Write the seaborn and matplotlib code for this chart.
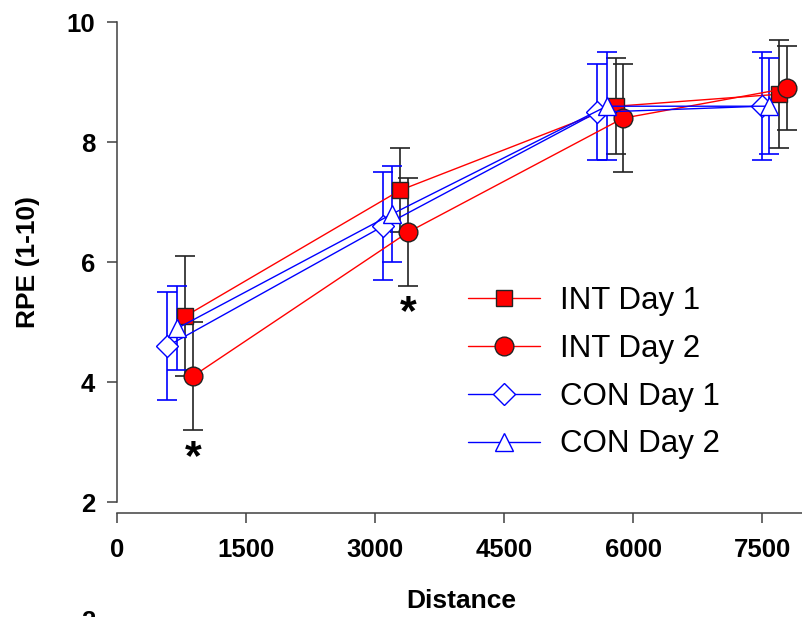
import seaborn as sns
import matplotlib.pyplot as plt

# RPE by distance, mean and SD per group (x slightly offset per group as in the figure)
int_d1_x = [790, 3290, 5800, 7690]
int_d1_y = [5.1, 7.2, 8.6, 8.8]
int_d1_sd = [1.0, 0.7, 0.8, 0.9]

int_d2_x = [880, 3380, 5880, 7790]
int_d2_y = [4.1, 6.5, 8.4, 8.9]
int_d2_sd = [0.9, 0.9, 0.9, 0.7]

con_d1_x = [580, 3090, 5580, 7490]
con_d1_y = [4.6, 6.6, 8.5, 8.6]
con_d1_sd = [0.9, 0.9, 0.8, 0.9]

con_d2_x = [700, 3190, 5690, 7580]
con_d2_y = [4.9, 6.8, 8.6, 8.6]
con_d2_sd = [0.7, 0.8, 0.9, 0.8]

# significance markers
star_x = [880, 3380]
star_y = [2.73, 5.16]

x_ticks = [0, 1500, 3000, 4500, 6000, 7500]
y_ticks = [2, 4, 6, 8, 10]

sns.set_theme(style="ticks")
plt.rcParams['font.family'] = ['Liberation Sans', 'DejaVu Sans']
plt.rcParams['text.color'] = 'black'
plt.rcParams['axes.labelcolor'] = 'black'

fig = plt.figure(figsize=(8.03, 6.17), dpi=100)
ax = fig.add_axes([0.146, 0.186, 0.857, 0.778])

series = [
    ("INT Day 1", int_d1_x, int_d1_y, int_d1_sd, "#ff0000", "#222222", "s", 12, "#ff0000", "#222222"),
    ("INT Day 2", int_d2_x, int_d2_y, int_d2_sd, "#ff0000", "#222222", "o", 13.5, "#ff0000", "#222222"),
    ("CON Day 1", con_d1_x, con_d1_y, con_d1_sd, "#0000ff", "#0000ff", "D", 11.5, "white", "#0000ff"),
    ("CON Day 2", con_d2_x, con_d2_y, con_d2_sd, "#0000ff", "#0000ff", "^", 13.5, "white", "#0000ff"),
]

for name, x, y, sd, col, ecol, mk, ms, mfc, mec in series:
    ax.errorbar(x, y, yerr=sd, fmt='none', ecolor=ecol, elinewidth=1.2,
                capsize=7, capthick=1.2, zorder=2)
    sns.lineplot(x=x, y=y, ax=ax, color=col, linewidth=1.0, marker=mk,
                 markersize=ms, markerfacecolor=mfc, markeredgecolor=mec,
                 markeredgewidth=1.0, label=name, errorbar=None, sort=False,
                 zorder=3)

for sx, sy in zip(star_x, star_y):
    ax.text(sx, sy, "*", ha='center', va='center', fontsize=31,
            fontweight='bold', color='black')

# spines first: moving a spine resets the ticks
sns.despine(ax=ax)
ax.spines['bottom'].set_position(('outward', 8))
for side in ['left', 'bottom']:
    ax.spines[side].set_color('#404040')
    ax.spines[side].set_linewidth(1.1)

ax.set_xlim(0, 8000)
ax.set_ylim(2, 10)
ax.tick_params(axis='both', direction='out', length=7, width=1.1,
               color='#404040', labelcolor='black', labelsize=18.5)
ax.tick_params(axis='y', pad=9)
ax.tick_params(axis='x', pad=11)
ax.set_xticks(x_ticks)
ax.set_yticks(y_ticks)
ax.set_xticklabels([str(t) for t in x_ticks], fontsize=18.5, fontweight='bold')
ax.set_yticklabels([str(t) for t in y_ticks], fontsize=18.5, fontweight='bold')

ax.set_ylabel("RPE (1-10)", fontsize=19, fontweight='bold', color='black')
ax.set_xlabel("Distance", fontsize=19, fontweight='bold', color='black')
ax.yaxis.set_label_coords(-0.112, 0.5)
ax.xaxis.set_label_coords(0.5, -0.18)
ax.grid(False)

ax.legend(loc='upper left', bbox_to_anchor=(0.487, 0.483), frameon=False,
          fontsize=22.5, borderpad=0, handlelength=2.3, handletextpad=0.65,
          labelspacing=0.57)

# top of the next panel's label, cut off by the crop
fig.text(0.11, 0.012, "2", ha='center', va='top', fontsize=18.5,
         fontweight='bold')

fig.savefig("out.png", dpi=100)
